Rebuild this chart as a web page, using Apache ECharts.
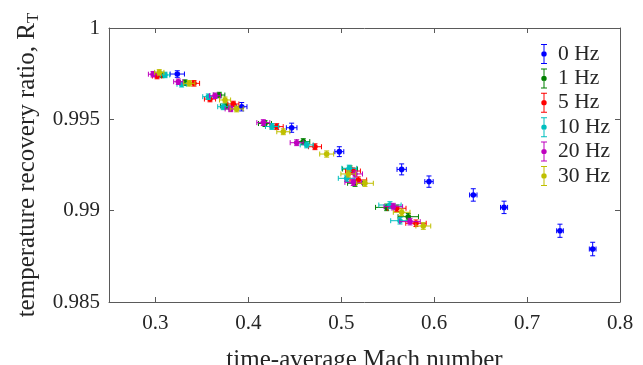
<!DOCTYPE html>
<html>
<head>
<meta charset="utf-8">
<script src="https://cdn.jsdelivr.net/npm/echarts@6/dist/echarts.min.js"></script>
<style>
  html, body { margin: 0; padding: 0; background: #fff; }
  #chart { width: 643px; height: 365px; }
</style>
</head>
<body>
<div id="chart"></div>
<script>
// 0 Hz
var mach0 = [0.3235, 0.3928, 0.4466, 0.4979, 0.5650, 0.5944, 0.6421, 0.6752, 0.7354, 0.7706];
var rt0 = [0.99748, 0.99569, 0.99454, 0.99323, 0.99226, 0.99159, 0.99086, 0.99018, 0.98890, 0.98790];
var machErr0 = [0.0077, 0.0057, 0.0057, 0.0048, 0.0050, 0.0045, 0.0040, 0.0038, 0.0036, 0.0036];
var rtErr0 = [0.00018, 0.00023, 0.00025, 0.00027, 0.00030, 0.00031, 0.00034, 0.00034, 0.00036, 0.00037];
// 1 Hz
var mach1 = [0.3070, 0.3318, 0.3687, 0.3759, 0.4179, 0.4591, 0.5094, 0.5148, 0.5489, 0.5721];
var rt1 = [0.99743, 0.99701, 0.99633, 0.99573, 0.99477, 0.99378, 0.99228, 0.99150, 0.99018, 0.98967];
var machErr1 = [0.005, 0.005, 0.006, 0.006, 0.007, 0.007, 0.008, 0.008, 0.012, 0.011];
var rtErr1 = [0.00015, 0.00015, 0.00015, 0.00016, 0.00016, 0.00016, 0.00017, 0.00017, 0.00018, 0.00018];
// 5 Hz
var mach5 = [0.3017, 0.3415, 0.3587, 0.3838, 0.4305, 0.4717, 0.5126, 0.5183, 0.5597, 0.5804];
var rt5 = [0.99737, 0.99697, 0.99611, 0.99584, 0.99460, 0.99350, 0.99217, 0.99168, 0.99013, 0.98931];
var machErr5 = [0.005, 0.006, 0.006, 0.006, 0.007, 0.007, 0.008, 0.009, 0.010, 0.011];
var rtErr5 = [0.00015, 0.00015, 0.00015, 0.00015, 0.00016, 0.00016, 0.00017, 0.00017, 0.00018, 0.00018];
// 10 Hz
var mach10 = [0.3103, 0.3282, 0.3569, 0.3730, 0.4254, 0.4628, 0.5086, 0.5058, 0.5524, 0.5632];
var rt10 = [0.99743, 0.99692, 0.99624, 0.99569, 0.99461, 0.99360, 0.99232, 0.99177, 0.99031, 0.98945];
var machErr10 = [0.005, 0.005, 0.006, 0.006, 0.007, 0.007, 0.008, 0.009, 0.012, 0.010];
var rtErr10 = [0.00015, 0.00015, 0.00015, 0.00016, 0.00016, 0.00016, 0.00017, 0.00017, 0.00018, 0.00018];
// 20 Hz
var mach20 = [0.2974, 0.3246, 0.3641, 0.3810, 0.4161, 0.4520, 0.5148, 0.5129, 0.5560, 0.5740];
var rt20 = [0.99747, 0.99706, 0.99629, 0.99557, 0.99482, 0.99372, 0.99201, 0.99155, 0.99022, 0.98940];
var machErr20 = [0.005, 0.005, 0.006, 0.006, 0.007, 0.007, 0.008, 0.009, 0.010, 0.011];
var rtErr20 = [0.00015, 0.00015, 0.00015, 0.00015, 0.00016, 0.00016, 0.00017, 0.00017, 0.00018, 0.00018];
// 30 Hz
var mach30 = [0.3041, 0.3364, 0.3749, 0.3874, 0.4376, 0.4843, 0.5076, 0.5255, 0.5650, 0.5883];
var rt30 = [0.99757, 0.99697, 0.99606, 0.99557, 0.99432, 0.99310, 0.99201, 0.99150, 0.98991, 0.98916];
var machErr30 = [0.005, 0.006, 0.006, 0.007, 0.007, 0.0075, 0.008, 0.009, 0.009, 0.008];
var rtErr30 = [0.00015, 0.00015, 0.00016, 0.00016, 0.00016, 0.00017, 0.00017, 0.00017, 0.00018, 0.00018];

var seriesNames = ['0 Hz', '1 Hz', '5 Hz', '10 Hz', '20 Hz', '30 Hz'];
var seriesColors = ['#0000ff', '#008000', '#ff0000', '#00bfbf', '#bf00bf', '#bfbf00'];
var xTicks = [0.3, 0.4, 0.5, 0.6, 0.7, 0.8];

var allData = [
  [mach0, rt0, machErr0, rtErr0],
  [mach1, rt1, machErr1, rtErr1],
  [mach5, rt5, machErr5, rtErr5],
  [mach10, rt10, machErr10, rtErr10],
  [mach20, rt20, machErr20, rtErr20],
  [mach30, rt30, machErr30, rtErr30]
];

var chart = echarts.init(document.getElementById('chart'));

var textColor = '#262626';
var lineColor = '#5a5a5a';
var font = 'Liberation Serif';

// error bar glyph for the legend
var legendIcon = 'path://M3,0H9V1H6.5V7.6H5.5V1H3Z' +
  'M5.5,12.4V19H3V20H9V19H6.5V12.4Z' +
  'M8.7,10A2.7,2.7 0 1,1 3.3,10A2.7,2.7 0 1,1 8.7,10Z';

function errRender(color) {
  return function (params, api) {
    var x = api.value(0), y = api.value(1), ex = api.value(2), ey = api.value(3);
    var c = api.coord([x, y]);
    var l = api.coord([x - ex, y]);
    var r = api.coord([x + ex, y]);
    var t = api.coord([x, y + ey]);
    var b = api.coord([x, y - ey]);
    var cap = 2.5;
    var ls = { stroke: color, lineWidth: 1 };
    function seg(x1, y1, x2, y2) {
      return { type: 'line', shape: { x1: x1, y1: y1, x2: x2, y2: y2 }, style: ls };
    }
    return {
      type: 'group',
      children: [
        seg(l[0], c[1], r[0], c[1]),
        seg(l[0], c[1] - cap, l[0], c[1] + cap),
        seg(r[0], c[1] - cap, r[0], c[1] + cap),
        seg(c[0], t[1], c[0], b[1]),
        seg(c[0] - cap, t[1], c[0] + cap, t[1]),
        seg(c[0] - cap, b[1], c[0] + cap, b[1]),
        { type: 'circle', shape: { cx: c[0], cy: c[1], r: 2.8 }, style: { fill: color } }
      ]
    };
  };
}

var series = allData.map(function (d, k) {
  return {
    name: seriesNames[k],
    type: 'custom',
    renderItem: errRender(seriesColors[k]),
    itemStyle: { color: seriesColors[k] },
    encode: { x: 0, y: 1 },
    data: d[0].map(function (m, i) { return [m, d[1][i], d[2][i], d[3][i]]; })
  };
});

var option = {
  backgroundColor: '#fff',
  animation: false,
  textStyle: { fontFamily: font },
  grid: { left: 109, right: 23, top: 28, bottom: 63, outerBoundsMode: 'none' },
  legend: {
    orient: 'vertical',
    left: 536,
    top: 38,
    itemWidth: 12,
    itemHeight: 20,
    itemGap: 2.4,
    icon: legendIcon,
    textStyle: { fontFamily: font, fontSize: 21.5, color: textColor, padding: [0, 0, 0, 3] },
    data: seriesNames.map(function (n) { return { name: n, icon: legendIcon }; })
  },
  xAxis: [{
    type: 'value',
    min: 0.25,
    max: 0.8,
    name: 'time-average Mach number',
    nameLocation: 'middle',
    nameGap: 46,
    nameTextStyle: { fontFamily: font, fontSize: 25, color: textColor },
    axisLine: { lineStyle: { color: lineColor } },
    axisTick: { inside: true, length: 5, customValues: xTicks, lineStyle: { color: lineColor } },
    axisLabel: { customValues: xTicks, fontFamily: font, fontSize: 21, color: textColor, margin: 11 },
    splitLine: { show: false }
  }, {
    type: 'value',
    position: 'top',
    min: 0.25,
    max: 0.8,
    axisLine: { show: true, lineStyle: { color: lineColor } },
    axisTick: { show: true, inside: true, length: 5, customValues: xTicks, lineStyle: { color: lineColor } },
    axisLabel: { show: false },
    splitLine: { show: false }
  }],
  yAxis: [{
    type: 'value',
    min: 0.985,
    max: 1,
    interval: 0.005,
    name: 'temperature recovery ratio, R{sub|T}',
    nameLocation: 'middle',
    nameGap: 66,
    nameTextStyle: {
      fontFamily: font, fontSize: 25, color: textColor,
      rich: { sub: { fontFamily: font, fontSize: 17, color: textColor, padding: [12, 0, 0, 0] } }
    },
    axisLine: { show: true, lineStyle: { color: lineColor } },
    axisTick: { show: true, inside: true, length: 5, lineStyle: { color: lineColor } },
    axisLabel: {
      fontFamily: font, fontSize: 21, color: textColor, margin: 9,
      formatter: function (v) { return String(parseFloat(v.toFixed(4))); }
    },
    splitLine: { show: false }
  }, {
    type: 'value',
    position: 'right',
    min: 0.985,
    max: 1,
    interval: 0.005,
    axisLine: { show: true, lineStyle: { color: lineColor } },
    axisTick: { show: true, inside: true, length: 5, lineStyle: { color: lineColor } },
    axisLabel: { show: false },
    splitLine: { show: false }
  }],
  series: series
};

chart.setOption(option);
</script>
</body>
</html>
